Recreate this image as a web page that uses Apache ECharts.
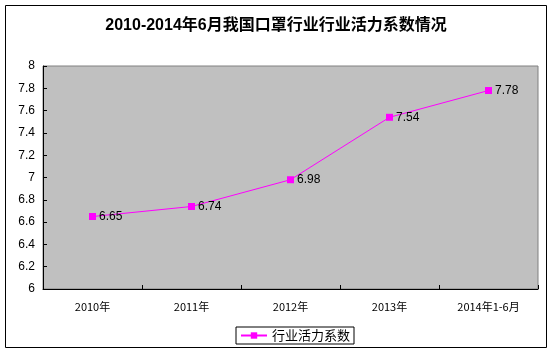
<!DOCTYPE html>
<html>
<head>
<meta charset="utf-8">
<style>
  html, body { margin: 0; padding: 0; background: #fff; }
  #main { width: 552px; height: 354px; }
</style>
<script src="https://cdn.jsdelivr.net/npm/echarts@6/dist/echarts.min.js"></script>
</head>
<body>
<div id="main"></div>
<script>
// 数据
var categories = ['2010年', '2011年', '2012年', '2013年', '2014年1-6月'];
var vitality = [6.65, 6.74, 6.98, 7.54, 7.78];
var yTicks = ['6', '6.2', '6.4', '6.6', '6.8', '7', '7.2', '7.4', '7.6', '7.8', '8'];

var chart = echarts.init(document.getElementById('main'));
chart.setOption({
    animation: false,
    backgroundColor: '#fff',
    title: {
        text: '2010-2014年6月我国口罩行业行业活力系数情况',
        left: 'center',
        top: 13,
        textStyle: {fontSize: 16, fontWeight: 'bold', color: '#000', fontFamily: 'Liberation Sans, Noto Sans CJK SC'}
    },
    graphic: [{
        type: 'rect',
        shape: {x: 5.5, y: 5.5, width: 541, height: 342},
        style: {fill: 'none', stroke: '#000', lineWidth: 1},
        silent: true
    }],
    legend: {
        bottom: 10,
        left: 236,
        itemWidth: 26,
        itemHeight: 8,
        itemGap: 4,
        padding: [2, 4],
        borderColor: '#000',
        borderWidth: 1,
        borderRadius: 0,
        textStyle: {fontSize: 13, color: '#000', fontFamily: 'Noto Sans CJK SC'},
        data: ['行业活力系数']
    },
    grid: {
        left: 43,
        right: 14,
        top: 66,
        bottom: 65,
        show: true,
        backgroundColor: '#c0c0c0',
        borderColor: '#808080',
        borderWidth: 1
    },
    xAxis: {
        type: 'category',
        data: categories,
        boundaryGap: true,
        axisLine: {lineStyle: {color: '#000'}},
        axisTick: {show: true, alignWithLabel: false, length: 4, inside: true, lineStyle: {color: '#000'}},
        axisLabel: {fontSize: 11, color: '#000', margin: 12, fontFamily: 'Noto Sans CJK SC'},
        splitLine: {show: false}
    },
    yAxis: {
        type: 'value',
        min: 6,
        max: 8,
        interval: 0.2,
        axisLine: {show: true, lineStyle: {color: '#000'}},
        axisTick: {show: true, length: 4, inside: true, lineStyle: {color: '#000'}},
        axisLabel: {
            fontSize: 12, color: '#000', margin: 8, fontFamily: 'Liberation Sans',
            formatter: function (v) {
                var i = Math.round((v - 6) / 0.2);
                return yTicks[i];
            }
        },
        splitLine: {show: false}
    },
    series: [{
        name: '行业活力系数',
        type: 'line',
        data: vitality,
        symbol: 'rect',
        symbolSize: 7,
        color: '#ff00ff',
        lineStyle: {color: '#ff00ff', width: 1},
        itemStyle: {color: '#ff00ff'},
        label: {
            show: true,
            position: 'right',
            distance: 3,
            fontSize: 12,
            color: '#000',
            fontFamily: 'Liberation Sans'
        }
    }]
});
</script>
</body>
</html>
